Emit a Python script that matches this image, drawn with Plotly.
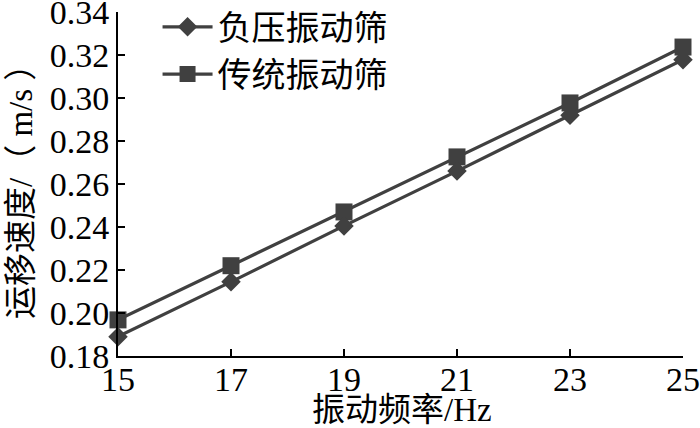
import plotly.graph_objects as go

freq = [15, 17, 19, 21, 23, 25]
neg_pressure = [0.189, 0.2145, 0.2405, 0.266, 0.292, 0.3178]
traditional = [0.1968, 0.222, 0.247, 0.2726, 0.2977, 0.3237]
x_ticks = [15, 17, 19, 21, 23, 25]
y_ticks = [0.18, 0.20, 0.22, 0.24, 0.26, 0.28, 0.30, 0.32, 0.34]

FONT = "Liberation Serif, Noto Sans CJK SC"
C = "#404040"

fig = go.Figure()
fig.add_trace(go.Scatter(x=freq, y=traditional, name="传统振动筛", mode="lines+markers",
                         line=dict(color=C, width=3.2),
                         marker=dict(symbol="square", size=17, color=C)))
fig.add_trace(go.Scatter(x=freq, y=neg_pressure, name="负压振动筛", mode="lines+markers",
                         line=dict(color=C, width=3.2),
                         marker=dict(symbol="diamond", size=15, color=C)))

L, R, T, B = 118, 17, 12, 72
PW, PH = 700 - L - R, 428 - T - B

fig.update_layout(
    width=700, height=428,
    margin=dict(l=L, r=R, t=T, b=B, autoexpand=False),
    paper_bgcolor="white", plot_bgcolor="white",
    font=dict(family=FONT, size=34, color="black"),
    showlegend=True,
    legend=dict(x=0.07, y=1.04, xanchor="left", yanchor="top",
                traceorder="reversed", bgcolor="rgba(0,0,0,0)",
                font=dict(family=FONT, size=34), tracegroupgap=0,
                itemwidth=50),
    xaxis=dict(range=[15, 25], tickvals=x_ticks, ticktext=[str(v) for v in x_ticks],
               showgrid=False, zeroline=False, showline=True, linecolor="black", linewidth=2,
               ticks="inside", ticklen=7, tickwidth=2, tickcolor="black", automargin=False,
               ticklabeloverflow="allow", ticklabelstandoff=-8),
    yaxis=dict(range=[0.18, 0.34], tickvals=y_ticks, ticktext=[f"{v:.2f}" for v in y_ticks],
               showgrid=False, zeroline=False, showline=True, linecolor="black", linewidth=2,
               ticks="inside", ticklen=7, tickwidth=2, tickcolor="black", automargin=False,
               ticklabeloverflow="allow"),
    annotations=[
        dict(text="振动频率/Hz", xref="paper", yref="paper",
             x=(402 - L) / PW, y=-(410 - (T + PH)) / PH,
             xanchor="center", yanchor="middle", showarrow=False,
             font=dict(family=FONT, size=33)),
        dict(text="运移速度/（ m/s ）", xref="paper", yref="paper",
             x=(21 - L) / PW, y=((T + PH) - 184) / PH, textangle=-90,
             xanchor="center", yanchor="middle", showarrow=False,
             font=dict(family=FONT, size=33)),
    ],
)
for tr in fig.data:
    tr.cliponaxis = False

fig.write_html("out.html", config={"displayModeBar": False},
               post_script="document.body.style.margin='0';")
